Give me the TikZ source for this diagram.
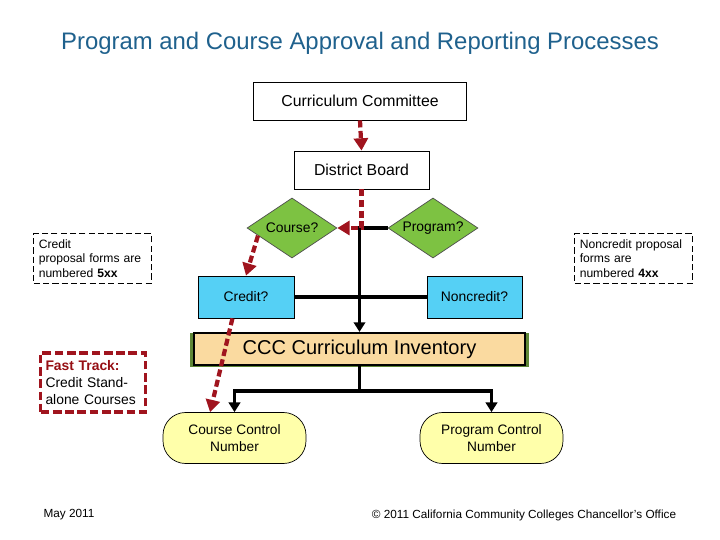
\documentclass[tikz,border=0pt]{standalone}
\usepackage{fontspec}
\setmainfont{Liberation Sans}
\usetikzlibrary{calc,arrows.meta,shapes.geometric,backgrounds}

\definecolor{titleblue}{RGB}{31,97,141}
\definecolor{flowred}{RGB}{160,20,30}
\definecolor{decgreen}{RGB}{125,194,66}
\definecolor{choiceblue}{RGB}{85,208,245}
\definecolor{invorange}{RGB}{250,218,160}
\definecolor{invgreen}{RGB}{95,135,55}
\definecolor{outyellow}{RGB}{255,255,170}
\definecolor{trackred}{RGB}{150,15,20}

\tikzset{
	procbox/.style={draw=black, line width=0.5pt, fill=white, minimum height=0.76cm, inner sep=0pt, font=\fontsize{9}{11}\selectfont},
	decision/.style={diamond, aspect=1.5, draw=black!70, line width=0.4pt, fill=decgreen, minimum width=1.8cm, minimum height=1.2cm, inner sep=0pt, font=\fontsize{7.9}{9.5}\selectfont},
	choice/.style={draw=black, line width=0.4pt, fill=choiceblue, minimum height=0.84cm, inner sep=0pt, font=\fontsize{7.9}{9.5}\selectfont},
	outcome/.style={draw=black, line width=0.4pt, fill=outyellow, rounded corners=0.45cm, minimum width=2.86cm, minimum height=1.02cm, inner sep=0pt, align=center, font=\fontsize{7.8}{9.6}\selectfont},
	notebox/.style={draw=black, line width=0.6pt, dash pattern=on 3.5pt off 1.8pt, text width=2.15cm, inner xsep=0.1cm, minimum height=0.98cm, align=left, font=\fontsize{6.9}{8.2}\selectfont},
	fastbox/.style={draw=flowred, line width=2.2pt, dash pattern=on 5pt off 2pt, text width=1.9cm, inner xsep=0.1cm, minimum height=1.18cm, align=left, font=\fontsize{7.9}{9.6}\selectfont},
	redflow/.style={draw=flowred, line width=2.4pt, dash pattern=on 4pt off 2pt, -{Triangle[width=8pt,length=7pt]}},
	blackflow/.style={draw=black, line width=2.2pt},
	blacktip/.style={-{Triangle[width=6.5pt,length=5.5pt]}},
}

\begin{document}
\begin{tikzpicture}[x=0.02cm, y=-0.02cm]
		%%%%% START %%%%%
		\useasboundingbox (0, 0) rectangle (720, 540);
		
		\node[text=titleblue, font=\fontsize{13.6}{16}\selectfont] (title) at (360, 43) {Program and Course Approval and Reporting Processes};
		
		\node[procbox, minimum width=4.26cm] (cc) at (360, 101) {Curriculum Committee};
		\node[procbox, minimum width=2.7cm] (db) at (361.5, 170) {District Board};
		
		\node[decision] (course) at (292, 228) {Course?};
		\node[decision] (program) at (433, 228) {Program?};
		
		\node[choice, minimum width=1.92cm] (credit) at (246, 297) {Credit?};
		\node[choice, minimum width=1.9cm] (noncredit) at (474.5, 297) {Noncredit?};
		
		\node[draw=black, line width=1.2pt, fill=invorange, minimum width=6.62cm, minimum height=0.64cm, inner sep=0pt, font=\fontsize{11.4}{13}\selectfont] (ccc) at (359.5, 349) {CCC Curriculum Inventory};
		\begin{scope}[on background layer]
			\fill[invgreen] ($(ccc.north west)+(-3, 1)$) rectangle ($(ccc.south east)+(3, 1)$);
		\end{scope}
		
		\node[outcome] (ccn) at (234.5, 438) {Course Control\\Number};
		\node[outcome] (pcn) at (491.5, 438) {Program Control\\Number};
		
		\node[notebox] (creditnote) at (92.5, 258.5) {Credit\\proposal forms are\\numbered \textbf{5xx}};
		\node[notebox] (noncreditnote) at (633.5, 258.5) {Noncredit proposal\\forms are\\numbered \textbf{4xx}};
		\node[fastbox] (fasttrack) at (93, 382.5) {\textcolor{trackred}{\textbf{Fast Track:}}\\Credit Stand-\\alone Courses};
		
		% connectors
		\draw[blackflow, blacktip] (program.west) -| (ccc.north);
		\draw[blackflow] (credit.east) -- (noncredit.west);
		\draw[redflow] (cc.south) -- (db.north);
		\draw[redflow] (db.south) |- (course.east);
		\draw[redflow] ($(course.west)!0.25!(course.south)$) -- (credit.north);
		
		\coordinate (split) at ($(ccc.south)+(0, 25)$);
		\draw[blackflow] (ccc.south) -- (split);
		\draw[blackflow, blacktip] (split) -| (ccn.north);
		\draw[blackflow, blacktip] (split) -| (pcn.north);
		\draw[redflow] ($(credit.south west)!0.36!(credit.south east)$) -- ($(ccn.north west)!0.33!(ccn.north east)$);
		
		\node[font=\fontsize{6.7}{8}\selectfont] (date) at (69, 515) {May 2011};
		\node[font=\fontsize{6.7}{8}\selectfont] (copyright) at (524, 515) {© 2011 California Community Colleges Chancellor's Office};
		
		%%%%% END %%%%%
\end{tikzpicture}
\end{document}
